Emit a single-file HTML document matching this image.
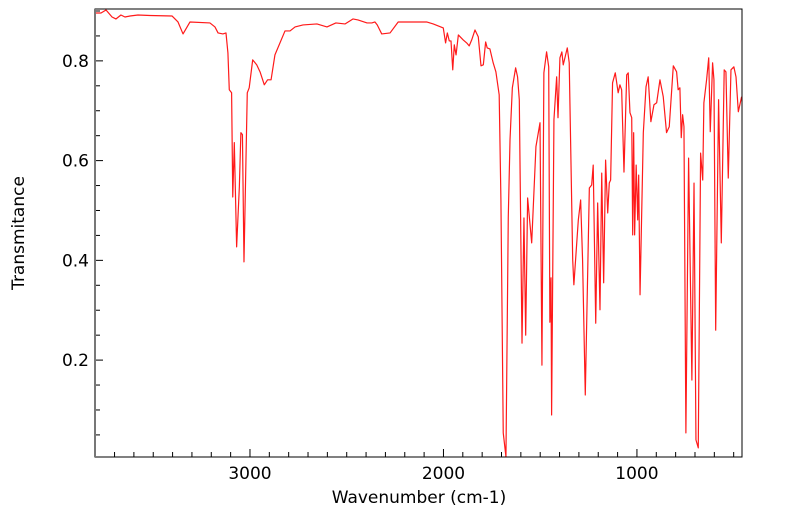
<!DOCTYPE html>
<html><head><meta charset="utf-8"><style>
html,body{margin:0;padding:0;background:#fff;width:799px;height:516px;overflow:hidden}
svg{display:block;font-family:"DejaVu Sans","Liberation Sans",sans-serif}
</style></head><body>
<svg id="chart" width="799" height="516" viewBox="0 0 799 516" xmlns="http://www.w3.org/2000/svg">
<g id="axes"></g>
<path id="trace" fill="none" stroke="#ff1a1a" stroke-width="1.2" stroke-linejoin="round"></path>
<rect x="95" y="9" width="647" height="448" fill="none" stroke="#000" stroke-width="1"></rect>
<line x1="95" y1="9" x2="95" y2="457" stroke="#777" stroke-width="2"></line>
<text x="419" y="503" font-size="17" text-anchor="middle">Wavenumber (cm-1)</text>
<text transform="translate(24,233) rotate(-90)" font-size="17" text-anchor="middle">Transmitance</text>
</svg>
<script>
const wavenumbers = [3801,3770,3744,3713,3693,3667,3646,3620,3579,3517,3403,3372,3346,3310,3207,3181,3165,3140,3124,3114,3107,3095,3089,3081,3069,3055,3047,3039,3031,3014,3004,2986,2965,2948,2926,2909,2891,2871,2819,2793,2767,2726,2654,2602,2556,2509,2468,2442,2395,2370,2354,2342,2319,2276,2234,2087,2053,2001,1989,1980,1970,1961,1952,1944,1935,1923,1898,1880,1867,1854,1837,1820,1806,1794,1782,1774,1760,1743,1729,1712,1703,1691,1677,1665,1656,1644,1627,1617,1608,1594,1584,1575,1565,1544,1522,1501,1491,1481,1467,1456,1450,1444,1441,1429,1415,1408,1398,1388,1381,1360,1350,1332,1326,1303,1291,1281,1267,1246,1234,1226,1213,1203,1191,1182,1172,1162,1151,1143,1136,1126,1112,1097,1088,1079,1067,1053,1045,1036,1027,1022,1017,1012,1004,996,991,984,967,953,942,928,912,898,881,864,847,833,812,795,787,778,771,764,757,747,733,716,705,695,683,671,660,654,640,629,621,609,602,593,578,564,549,540,528,514,499,488,476,459];
const transmittance = [0.896,0.896,0.902,0.888,0.884,0.892,0.888,0.890,0.892,0.891,0.890,0.878,0.854,0.878,0.876,0.868,0.856,0.854,0.856,0.816,0.742,0.736,0.527,0.636,0.427,0.547,0.656,0.652,0.397,0.736,0.746,0.802,0.792,0.778,0.752,0.762,0.762,0.812,0.860,0.860,0.868,0.872,0.874,0.868,0.876,0.874,0.884,0.882,0.876,0.876,0.878,0.872,0.854,0.856,0.878,0.878,0.874,0.866,0.836,0.856,0.840,0.840,0.782,0.832,0.812,0.852,0.842,0.836,0.830,0.842,0.862,0.848,0.790,0.792,0.838,0.826,0.824,0.796,0.778,0.732,0.521,0.054,0.006,0.487,0.642,0.746,0.786,0.768,0.722,0.234,0.485,0.250,0.525,0.435,0.628,0.676,0.190,0.776,0.818,0.788,0.276,0.365,0.090,0.682,0.768,0.686,0.806,0.818,0.792,0.826,0.796,0.401,0.351,0.481,0.521,0.401,0.130,0.545,0.551,0.591,0.274,0.515,0.301,0.575,0.355,0.601,0.495,0.555,0.561,0.756,0.776,0.736,0.752,0.742,0.577,0.772,0.776,0.696,0.686,0.451,0.656,0.451,0.591,0.481,0.571,0.331,0.656,0.748,0.768,0.678,0.712,0.716,0.762,0.728,0.656,0.668,0.790,0.778,0.742,0.746,0.646,0.692,0.668,0.054,0.605,0.160,0.555,0.040,0.024,0.615,0.561,0.716,0.762,0.806,0.658,0.796,0.762,0.260,0.722,0.435,0.782,0.778,0.565,0.782,0.788,0.768,0.698,0.728];
const xMajorTicks = [3000,2000,1000];
const xTickLabels = ["3000","2000","1000"];
const yMajorTicks = [0.2,0.4,0.6,0.8];
const yTickLabels = ["0.2","0.4","0.6","0.8"];

const X0=95,X1=742,Y0=9,Y1=457;
const WMAX=3801,WMIN=457,TMAX=0.904,TMIN=0.0057;
function xs(w){return X0+(WMAX-w)/(WMAX-WMIN)*(X1-X0);}
function ys(t){return Y1-(t-TMIN)/(TMAX-TMIN)*(Y1-Y0);}
const NS="http://www.w3.org/2000/svg";
const axes=document.getElementById('axes');
function mk(tag,attrs){const e=document.createElementNS(NS,tag);for(const k in attrs)e.setAttribute(k,attrs[k]);return e;}

for(let w=3800;w>=500;w-=100){
  const major=w%1000===0;
  const l=mk('line',{x1:xs(w),x2:xs(w),y1:Y1,y2:Y1-(major?8:5),stroke:'#000','stroke-width':1});
  
  
  axes.appendChild(l);
}
xMajorTicks.forEach((w,i)=>{
  const t=mk('text',{x:xs(w),y:Y1+22,'font-size':17,'text-anchor':'middle'});
  
  
  t.textContent=xTickLabels[i];axes.appendChild(t);
});
for(let k=1;k<=18;k++){
  const v=k*0.05;if(v<TMIN||v>TMAX)continue;
  const major=k%4===0;
  const l=mk('line',{x1:X0,x2:X0+(major?8:5),y1:ys(v),y2:ys(v),stroke:'#000','stroke-width':1});
  
  
  axes.appendChild(l);
}
yMajorTicks.forEach((v,i)=>{
  const t=mk('text',{x:X0-6,y:ys(v)+6,'font-size':17,'text-anchor':'end'});
  
  
  t.textContent=yTickLabels[i];axes.appendChild(t);
});
let d='';
wavenumbers.forEach((w,i)=>{d+=(i?'L':'M')+xs(w).toFixed(2)+','+ys(transmittance[i]).toFixed(2);});
document.getElementById('trace').setAttribute('d',d);
</script>
</body></html>
